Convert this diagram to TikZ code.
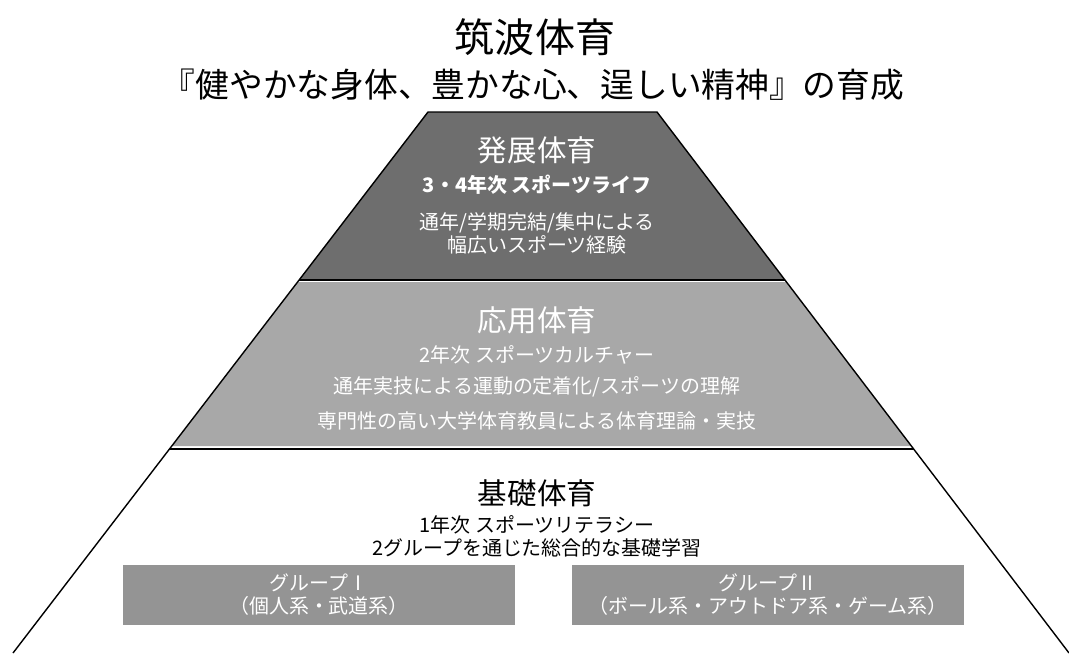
\documentclass[tikz,border=0pt]{standalone}
\usepackage{fontspec}
\setmainfont{Noto Sans CJK JP}

\definecolor{hattengray}{gray}{0.43}
\definecolor{oyogray}{gray}{0.66}
\definecolor{groupgray}{gray}{0.58}

\tikzset{
  titletext/.style={font=\fontsize{28.5}{30}\selectfont},
  mottotext/.style={font=\fontsize{24}{26}\selectfont},
  headtext/.style={font=\fontsize{21}{23}\selectfont},
  linetext/.style={font=\fontsize{14.2}{16}\selectfont},
  whitetext/.style={text=white},
  groupbox/.style={fill=groupgray, text=white, align=center,
    minimum width=9.8cm, minimum height=1.5cm, inner sep=0pt,
    font=\fontsize{14.2}{16.4}\selectfont}
}

\begin{document}
\begin{tikzpicture}[x=0.025cm,y=-0.025cm]
  \useasboundingbox (0,0) rectangle (1069,653);

  % layers of the pyramid
  \fill [hattengray] (428,112) -- (657,112) -- (785,280) -- (299,280) -- cycle;
  \fill [oyogray] (298,282) -- (786,282) -- (911,446) -- (172,446) -- cycle;
  \draw [line width=1pt] (13,653) -- (428,112) -- (657,112) -- (1069,653);
  \draw [line width=1pt] (299,280) -- (785,280);
  \draw [line width=1pt] (170,449) -- (914,449);

  \node [titletext] (title) at (535,37) {筑波体育};
  \node [mottotext] (motto) at (533,85) {『健やかな身体、豊かな心、逞しい精神』の育成};

  % hatten
  \node [headtext, whitetext] (hatten) at (537,150) {発展体育};
  \node [linetext, whitetext] (hatten1) at (537,185) {\bfseries 3・4年次 スポーツライフ};
  \node [linetext, whitetext] (hatten2) at (537,223) {通年/学期完結/集中による};
  \node [linetext, whitetext] (hatten3) at (537,245) {幅広いスポーツ経験};

  % oyo
  \node [headtext, whitetext] (oyo) at (537,320) {応用体育};
  \node [linetext, whitetext] (oyo1) at (537,355) {2年次 スポーツカルチャー};
  \node [linetext, whitetext] (oyo2) at (537,387) {通年実技による運動の定着化/スポーツの理解};
  \node [linetext, whitetext] (oyo3) at (537,421) {専門性の高い大学体育教員による体育理論・実技};

  % kiso
  \node [headtext] (kiso) at (537,493) {基礎体育};
  \node [linetext] (kiso1) at (537,525) {1年次 スポーツリテラシー};
  \node [linetext] (kiso2) at (537,548) {2グループを通じた総合的な基礎学習};

  \node [groupbox] (group1) at (319,595) {グループⅠ\\（個人系・武道系）};
  \node [groupbox] (group2) at (768,595) {グループⅡ\\（ボール系・アウトドア系・ゲーム系）};
\end{tikzpicture}
\end{document}
